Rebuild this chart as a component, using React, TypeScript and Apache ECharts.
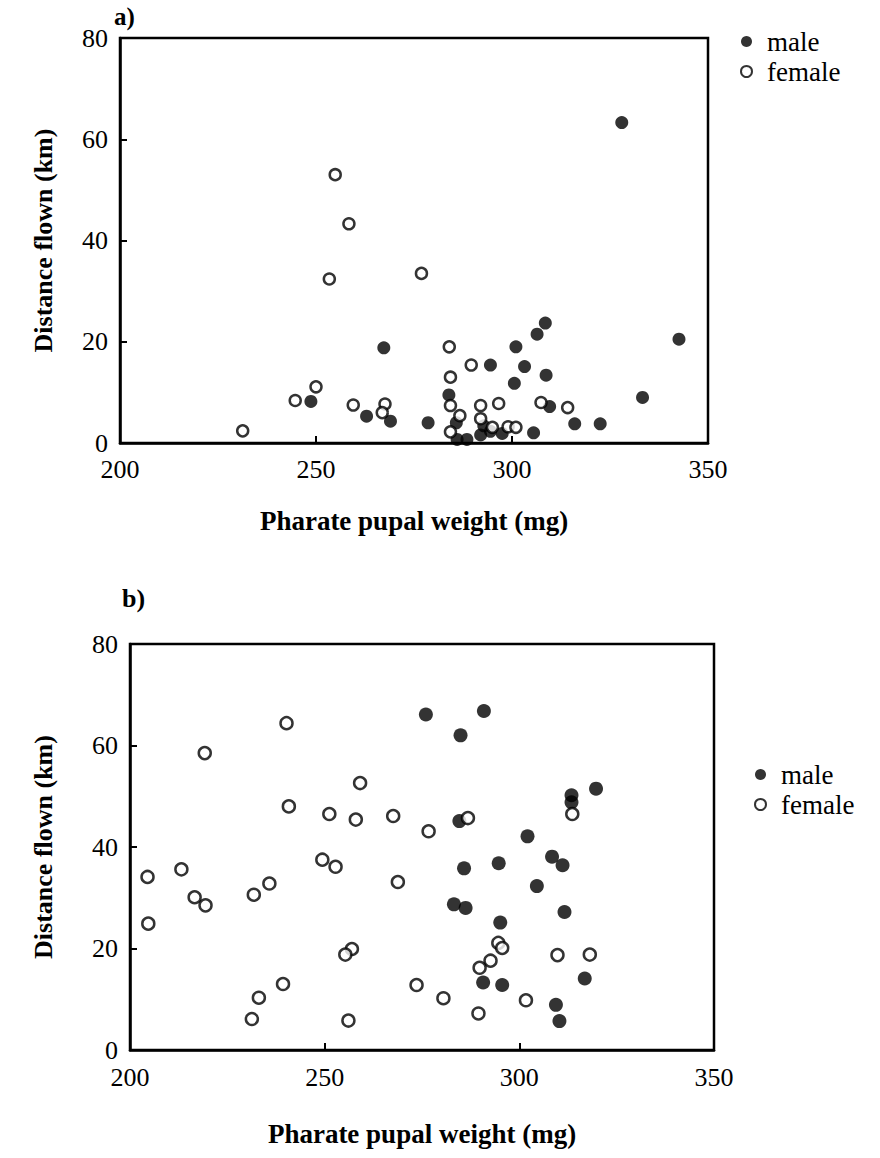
import React, { useEffect, useRef } from "react";
import * as echarts from "echarts";

// Panel a) data: [pharate pupal weight (mg), distance flown (km)]
const maleA: number[][] = [
  [328, 63.3], [308.5, 23.7], [306.4, 21.5], [342.6, 20.5], [301, 19.0], [267.3, 18.8],
  [294.5, 15.4], [303.2, 15.1], [308.7, 13.4], [300.6, 11.8], [333.3, 9.0], [283.9, 9.5],
  [309.6, 7.2], [248.7, 8.2], [262.9, 5.3], [269, 4.3], [278.6, 4.0], [285.8, 4.0],
  [292.8, 3.4], [286, 0.7], [288.5, 0.7], [292, 1.6], [297.5, 1.9], [305.5, 2.0],
  [316, 3.8], [322.5, 3.8], [294.5, 2.3],
];
const femaleA: number[][] = [
  [254.9, 53.0], [258.4, 43.3], [253.4, 32.4], [276.9, 33.5], [284, 19.0], [289.6, 15.4],
  [284.3, 13.0], [250, 11.1], [244.7, 8.4], [259.5, 7.5], [267.6, 7.7], [266.9, 6.0],
  [231.3, 2.4], [284.3, 7.4], [292, 7.4], [296.6, 7.8], [307.4, 8.0], [314.2, 7.0],
  [286.7, 5.4], [292, 4.8], [295, 3.1], [284.3, 2.2], [299, 3.2], [301, 3.1],
];

// Panel b) data
const maleB: number[][] = [
  [276, 66.1], [290.9, 66.8], [284.9, 62.0], [319.7, 51.5], [313.4, 50.2], [313.4, 48.8],
  [284.6, 45.1], [302.1, 42.1], [285.8, 35.8], [294.7, 36.8], [308.4, 38.1], [311.1, 36.4],
  [304.5, 32.3], [283.2, 28.7], [286.2, 28.0], [311.6, 27.2], [295.1, 25.1], [290.7, 13.3],
  [295.6, 12.8], [316.8, 14.1], [309.4, 8.9], [310.3, 5.7],
];
const femaleB: number[][] = [
  [240.2, 64.4], [219.2, 58.5], [259.1, 52.6], [240.8, 48.0], [251.2, 46.5], [258, 45.4],
  [267.6, 46.1], [313.6, 46.5], [286.8, 45.7], [276.7, 43.1], [204.5, 34.1], [213.2, 35.6],
  [216.6, 30.1], [219.4, 28.5], [204.7, 24.9], [231.8, 30.6], [235.8, 32.8], [249.4, 37.5],
  [252.8, 36.1], [268.8, 33.1], [257, 19.9], [255.3, 18.8], [239.3, 13.0], [233.1, 10.3],
  [231.3, 6.1], [256.1, 5.8], [294.6, 21.1], [295.6, 20.1], [309.8, 18.7], [318.1, 18.8],
  [292.6, 17.6], [289.8, 16.2], [273.6, 12.8], [280.5, 10.2], [301.7, 9.8], [289.5, 7.2],
];

const xMin = 200;
const xMax = 350;
const xStep = 50;
const yMin = 0;
const yMax = 80;
const yStep = 20;

const xTitle = "Pharate pupal weight (mg)";
const yTitle = "Distance flown (km)";
const seriesNames = ["male", "female"];
const panelLabels = ["a)", "b)"];

const FONT = "'Liberation Serif', 'DejaVu Serif', serif";

export default function App() {
  const ref = useRef<HTMLDivElement>(null);

  useEffect(() => {
    if (!ref.current) return;
    const chart = echarts.init(ref.current, null, { renderer: "svg" });

    const grids = [
      { left: 120, top: 38, width: 588, height: 405 },
      { left: 130, top: 644, width: 584, height: 406 },
    ];
    const xNameGap = [64, 70];
    const xLabelMargin = [13, 14];
    const yNameGap = [64, 74];

    const xAxis = grids.map((_, i) => ({
      type: "value",
      gridIndex: i,
      min: xMin,
      max: xMax,
      interval: xStep,
      name: xTitle,
      nameLocation: "middle",
      nameGap: xNameGap[i],
      nameTextStyle: { fontFamily: FONT, fontWeight: "bold", fontSize: 27, color: "#000" },
      axisLine: { show: true, lineStyle: { color: "#000", width: 2.5 } },
      axisTick: { show: true, inside: true, length: 7, lineStyle: { color: "#000", width: 2 } },
      axisLabel: { fontFamily: FONT, fontSize: 26, color: "#000", margin: xLabelMargin[i] },
      splitLine: { show: false },
    }));

    const yAxis = grids.map((_, i) => ({
      type: "value",
      gridIndex: i,
      min: yMin,
      max: yMax,
      interval: yStep,
      name: yTitle,
      nameLocation: "middle",
      nameGap: yNameGap[i],
      nameTextStyle: { fontFamily: FONT, fontWeight: "bold", fontSize: 26, color: "#000" },
      axisLine: { show: true, lineStyle: { color: "#000", width: 2.5 } },
      axisTick: { show: true, inside: true, length: 7, lineStyle: { color: "#000", width: 2 } },
      axisLabel: { fontFamily: FONT, fontSize: 26, color: "#000", margin: 12 },
      splitLine: { show: false },
    }));

    const maleStyle = { color: "#000" };
    const femaleStyle = { color: "#fff", borderColor: "#000", borderWidth: 2.5 };

    const series = [
      { name: seriesNames[0], type: "scatter", xAxisIndex: 0, yAxisIndex: 0, data: maleA, symbolSize: 13, itemStyle: maleStyle },
      { name: seriesNames[1], type: "scatter", xAxisIndex: 0, yAxisIndex: 0, data: femaleA, symbolSize: 11, itemStyle: femaleStyle },
      { name: seriesNames[0], type: "scatter", xAxisIndex: 1, yAxisIndex: 1, data: maleB, symbolSize: 14, itemStyle: maleStyle },
      { name: seriesNames[1], type: "scatter", xAxisIndex: 1, yAxisIndex: 1, data: femaleB, symbolSize: 12, itemStyle: femaleStyle },
    ];

    const legendBase = {
      orient: "vertical",
      icon: "circle",
      itemWidth: 11,
      itemHeight: 11,
      itemGap: 3,
      padding: 0,
      selectedMode: false,
      textStyle: { fontFamily: FONT, fontSize: 27, lineHeight: 27, color: "#000", padding: [0, 0, 0, 10] },
      data: seriesNames,
    };

    chart.setOption({
      animation: false,
      backgroundColor: "#fff",
      grid: grids.map((g) => ({ ...g, show: true, borderColor: "#000", borderWidth: 2.5, backgroundColor: "transparent" })),
      xAxis,
      yAxis,
      series,
      legend: [
        { ...legendBase, left: 740, top: 28 },
        { ...legendBase, left: 754, top: 761 },
      ],
      graphic: [
        { type: "text", left: 114, top: 4, style: { text: panelLabels[0], font: `bold 25px ${FONT}`, fill: "#000" } },
        { type: "text", left: 122, top: 585, style: { text: panelLabels[1], font: `bold 26px ${FONT}`, fill: "#000" } },
      ],
    });

    return () => chart.dispose();
  }, []);

  return (
    <div
      ref={ref}
      style={{ position: "absolute", left: 0, top: 0, width: 880, height: 1158, background: "#fff" }}
    />
  );
}
